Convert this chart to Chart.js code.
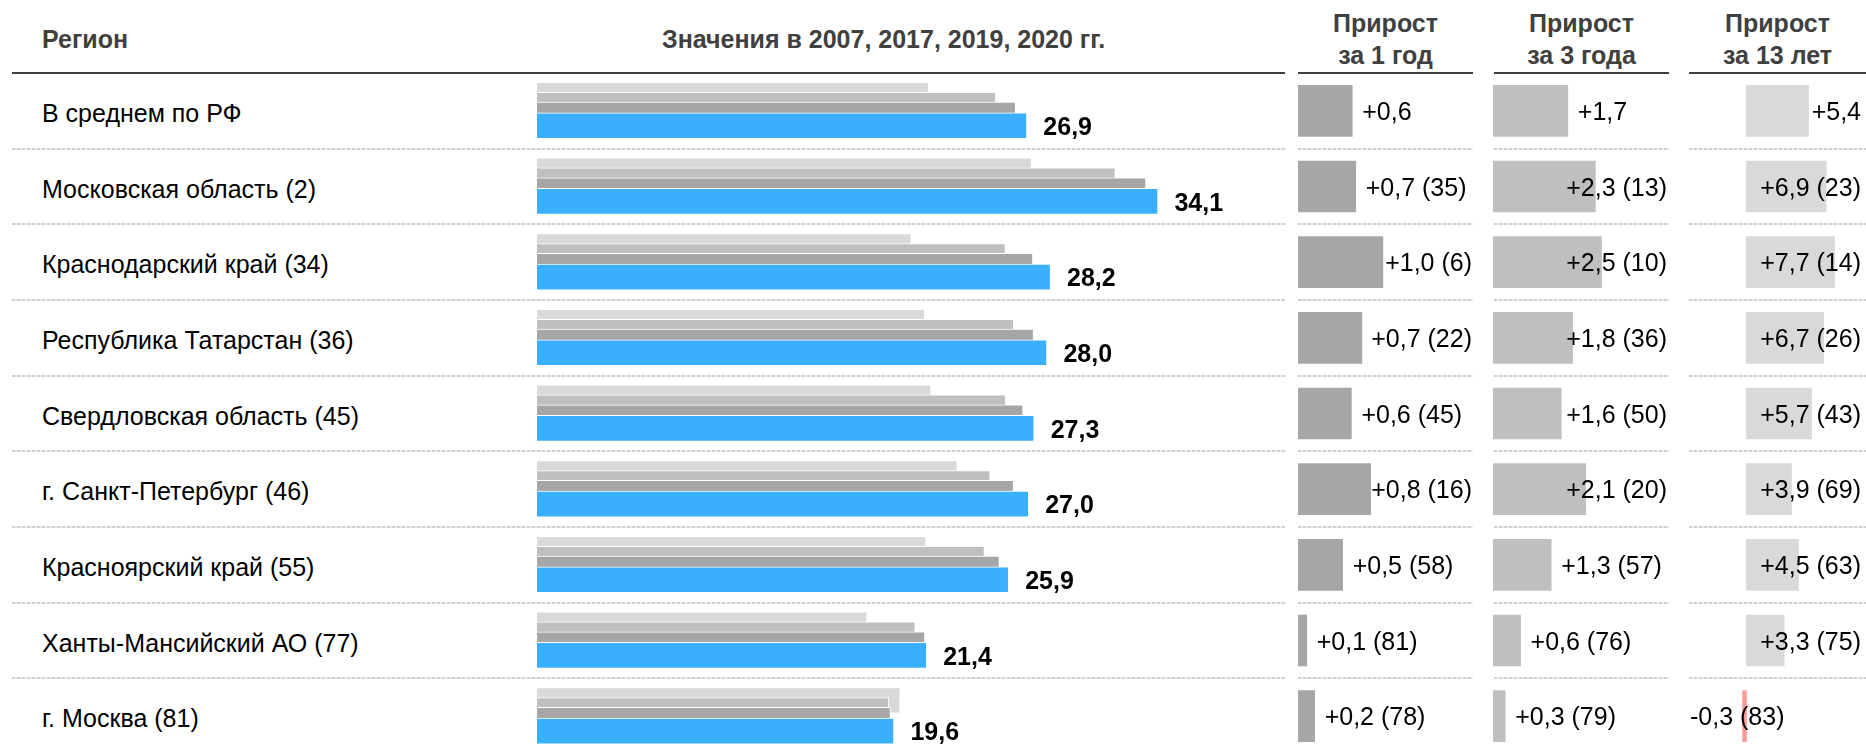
<!DOCTYPE html>
<html lang="ru">
<head>
<meta charset="utf-8">
<title>Значения в 2007, 2017, 2019, 2020 гг.</title>
<script src="https://cdn.jsdelivr.net/npm/chart.js@4.4.1/dist/chart.umd.min.js"></script>
<style>
    html, body { margin: 0; padding: 0; background: #fff; overflow: hidden; }
    body { width: 1866px; height: 751px; position: relative; font-family: "Liberation Sans", Arial, sans-serif; }
    canvas { position: absolute; }
    .hdr { position: absolute; color: #404040; font-weight: bold; font-size: 25px; white-space: nowrap; }
    .rule { position: absolute; top: 72px; height: 2px; background: #404040; }
    .sep { position: absolute; height: 2px; background: repeating-linear-gradient(90deg, #d0d0d0 0 3px, #ececec 3px 5px); }
    .region { position: absolute; left: 42px; font-size: 25px; line-height: 25px; color: #000; white-space: nowrap; }
</style>
</head>
<body>
<div class="hdr" id="hdrRegion" style="left:42px;line-height:25px">Регион</div>
<div class="hdr" id="hdrValues" style="left:662px;line-height:25px"></div>
<div class="hdr" style="left:1298px;width:175px;top:7.3px;line-height:32px;text-align:center">Прирост<br>за 1 год</div>
<div class="hdr" style="left:1494px;width:175px;top:7.3px;line-height:32px;text-align:center">Прирост<br>за 3 года</div>
<div class="hdr" style="left:1689px;width:177px;top:7.3px;line-height:32px;text-align:center">Прирост<br>за 13 лет</div>

<div class="rule" style="left:12px;width:1273px"></div>
<div class="rule" style="left:1298px;width:175px"></div>
<div class="rule" style="left:1494px;width:175px"></div>
<div class="rule" style="left:1689px;width:177px"></div>

<div id="rows"></div>

<canvas id="mainChart" width="748" height="681" style="left:537px;top:73px"></canvas>
<canvas id="growth1" width="175" height="681" style="left:1298px;top:73px"></canvas>
<canvas id="growth3" width="175" height="681" style="left:1493px;top:73px"></canvas>
<canvas id="growth13" width="173" height="681" style="left:1689px;top:73px"></canvas>

<script>
// Data
const regions = [
    'В среднем по РФ',
    'Московская область (2)',
    'Краснодарский край (34)',
    'Республика Татарстан (36)',
    'Свердловская область (45)',
    'г. Санкт-Петербург (46)',
    'Красноярский край (55)',
    'Ханты-Мансийский АО (77)',
    'г. Москва (81)'
];
const years = ['2007', '2017', '2019', '2020'];

const values2007 = [21.5, 27.16, 20.55, 21.29, 21.64, 23.08, 21.36, 18.12, 19.94];
const values2017 = [25.19, 31.76, 25.72, 26.18, 25.74, 24.88, 24.57, 20.77, 19.32];
const values2019 = [26.28, 33.44, 27.23, 27.27, 26.69, 26.17, 25.39, 21.3, 19.41];
const values2020 = [26.9, 34.1, 28.2, 28.0, 27.3, 27.0, 25.9, 21.4, 19.6];

const growth1 = [0.62, 0.66, 0.97, 0.73, 0.61, 0.83, 0.51, 0.10, 0.19];
const ranks1 = [null, 35, 6, 22, 45, 16, 58, 81, 78];
const growth3 = [1.71, 2.34, 2.48, 1.82, 1.56, 2.12, 1.33, 0.63, 0.28];
const ranks3 = [null, 13, 10, 36, 50, 20, 57, 76, 79];
const growth13 = [5.40, 6.94, 7.66, 6.71, 5.66, 3.92, 4.52, 3.28, -0.34];
const ranks13 = [null, 23, 14, 26, 43, 69, 63, 75, 83];

// Layout
const TOP = 73;
const ROW_H = 681 / regions.length;
const FONT = '"Liberation Sans", Arial, sans-serif';
const FS = 25;
const BASE_OFF = 0.8465 * FS; // baseline offset for a line-height equal to the font size

function fmtNum(v) {
    return v.toFixed(1).replace('.', ',');
}

function fmtGrowth(v, rank) {
    return (v >= 0 ? '+' : '') + fmtNum(v) + (rank ? ' (' + rank + ')' : '');
}

// Header texts
document.getElementById('hdrValues').textContent = 'Значения в ' + years.join(', ') + ' гг.';
document.getElementById('hdrRegion').style.top = (48.5 - BASE_OFF) + 'px';
document.getElementById('hdrValues').style.top = (48.5 - BASE_OFF) + 'px';

// Region names and dashed separators
const rowsBox = document.getElementById('rows');
regions.forEach((name, i) => {
    const center = TOP + (i + 0.5) * ROW_H;
    const el = document.createElement('div');
    el.className = 'region';
    el.textContent = name;
    el.style.top = (center + 11.3 - BASE_OFF) + 'px';
    rowsBox.appendChild(el);

    if (i < regions.length - 1) {
        const y = TOP + (i + 1) * ROW_H - 1;
        [[12, 1273], [1298, 175], [1494, 175], [1689, 177]].forEach(([left, width]) => {
            const sep = document.createElement('div');
            sep.className = 'sep';
            sep.style.left = left + 'px';
            sep.style.width = width + 'px';
            sep.style.top = y + 'px';
            rowsBox.appendChild(sep);
        });
    }
});

// Main chart: four overlapping bars per region, 2020 drawn on top
const mainSeries = [
    { label: years[3], data: values2020, color: '#3aaffd', shift: 14.9, thick: 26 },
    { label: years[2], data: values2019, color: '#a6a6a6', shift: 4.0, thick: 25.5 },
    { label: years[1], data: values2017, color: '#bfbfbf', shift: -5.8, thick: 25.5 },
    { label: years[0], data: values2007, color: '#d9d9d9', shift: -15.8, thick: 25.5 }
];

const mainLabels = {
    id: 'mainLabels',
    afterDatasetsDraw(chart) {
        const ctx = chart.ctx;
        const meta = chart.getDatasetMeta(0);
        ctx.save();
        ctx.font = 'bold ' + FS + 'px ' + FONT;
        ctx.fillStyle = '#000';
        ctx.textBaseline = 'alphabetic';
        meta.data.forEach((bar, i) => {
            ctx.fillText(fmtNum(values2020[i]), bar.x + 16.5, bar.y + 9.4);
        });
        ctx.restore();
    }
};

new Chart(document.getElementById('mainChart'), {
    type: 'bar',
    data: {
        datasets: mainSeries.map(s => ({
            label: s.label,
            data: s.data.map((v, i) => ({ x: v, y: i + s.shift / ROW_H })),
            backgroundColor: s.color,
            borderColor: '#ffffff',
            borderWidth: 1,
            barThickness: s.thick,
            grouped: false
        }))
    },
    options: {
        indexAxis: 'y',
        responsive: false,
        animation: false,
        events: [],
        layout: { padding: 0 },
        plugins: { legend: { display: false }, tooltip: { enabled: false } },
        scales: {
            x: { type: 'linear', min: 0, max: 748 / 18.21, display: false },
            y: { type: 'linear', min: -0.5, max: 8.5, reverse: true, offset: false, display: false }
        }
    },
    plugins: [mainLabels]
});

// Growth columns
function growthChart(id, values, ranks, color, xMin, xMax) {
    const labelsPlugin = {
        id: 'growthLabels',
        afterDatasetsDraw(chart) {
            const ctx = chart.ctx;
            const area = chart.chartArea;
            const meta = chart.getDatasetMeta(0);
            ctx.save();
            ctx.font = FS + 'px ' + FONT;
            ctx.fillStyle = '#000';
            ctx.textBaseline = 'alphabetic';
            meta.data.forEach((bar, i) => {
                const text = fmtGrowth(values[i], ranks[i]);
                const w = ctx.measureText(text).width;
                let x;
                if (values[i] >= 0) {
                    x = Math.min(bar.x + 10, area.right - 1 - w);
                } else {
                    x = Math.max(bar.x - 10 - w, area.left + 1);
                }
                ctx.fillText(text, x, bar.y + 9);
            });
            ctx.restore();
        }
    };

    return new Chart(document.getElementById(id), {
        type: 'bar',
        data: {
            labels: regions,
            datasets: [{
                data: values,
                backgroundColor: values.map(v => v < 0 ? '#ff9a9a' : color),
                borderWidth: 0,
                barThickness: 51
            }]
        },
        options: {
            indexAxis: 'y',
            responsive: false,
            animation: false,
            events: [],
            layout: { padding: 0 },
            plugins: { legend: { display: false }, tooltip: { enabled: false } },
            scales: {
                x: { type: 'linear', min: xMin, max: xMax, display: false },
                y: { display: false }
            }
        },
        plugins: [labelsPlugin]
    });
}

growthChart('growth1', growth1, ranks1, '#a6a6a6', 0, 2);
growthChart('growth3', growth3, ranks3, '#bfbfbf', 0, 4);
growthChart('growth13', growth13, ranks13, '#d9d9d9', -5, 10.05);
</script>
</body>
</html>
